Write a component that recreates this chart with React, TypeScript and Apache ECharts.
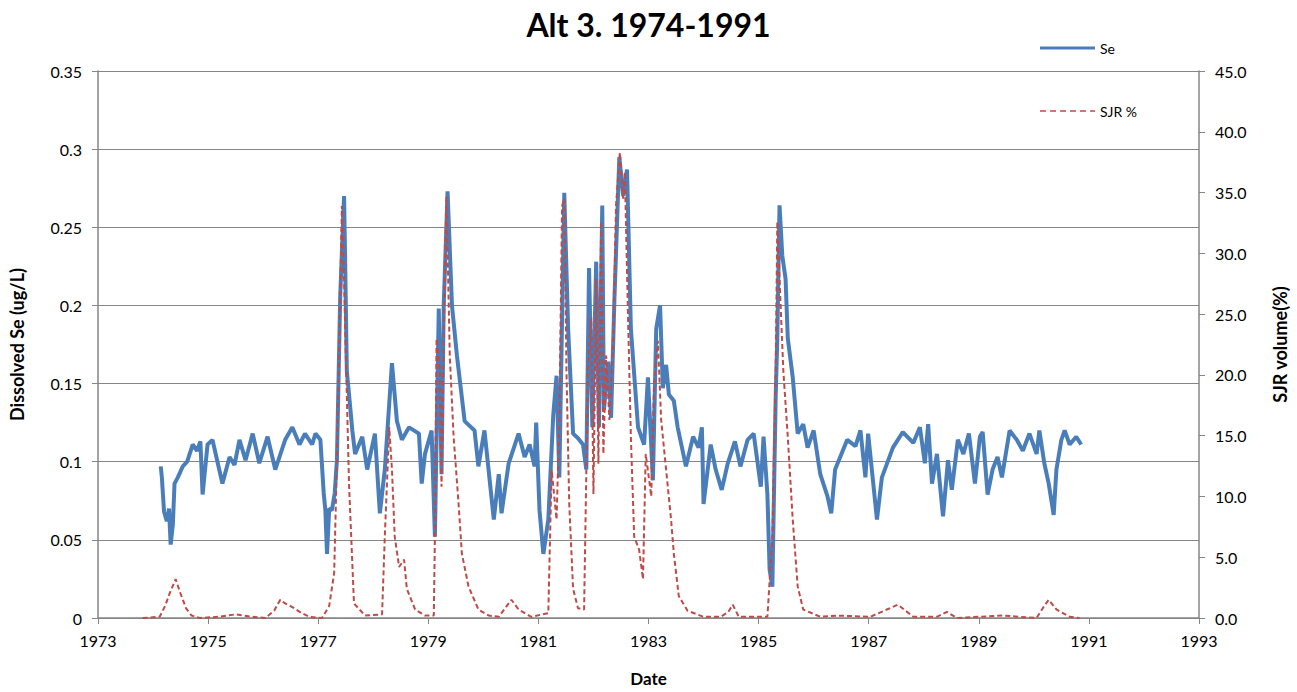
import React, { useEffect, useRef } from "react";
import * as echarts from "echarts";

const titleText = "Alt 3. 1974-1991";
const xTicksMin = 1973;
const xTicksMax = 1993;

// Dissolved Se (ug/L): [decimal year, value]
const seData: [number, number][] = [
  [1974.14, 0.097], [1974.16, 0.09], [1974.2, 0.068], [1974.25, 0.062], [1974.29, 0.07],
  [1974.32, 0.047], [1974.36, 0.06], [1974.39, 0.086], [1974.45, 0.09], [1974.54, 0.097],
  [1974.62, 0.1], [1974.72, 0.111], [1974.8, 0.107], [1974.86, 0.113], [1974.9, 0.079],
  [1974.99, 0.111], [1975.08, 0.114], [1975.17, 0.1], [1975.26, 0.086], [1975.39, 0.103],
  [1975.48, 0.098], [1975.57, 0.114], [1975.68, 0.101], [1975.81, 0.118], [1975.93, 0.099],
  [1976.08, 0.116], [1976.22, 0.095], [1976.4, 0.114], [1976.53, 0.122], [1976.66, 0.111],
  [1976.76, 0.118], [1976.89, 0.111], [1976.95, 0.118], [1977.04, 0.114], [1977.1, 0.08],
  [1977.13, 0.069], [1977.16, 0.041], [1977.2, 0.07], [1977.25, 0.069], [1977.3, 0.08],
  [1977.34, 0.101], [1977.4, 0.206], [1977.47, 0.27], [1977.49, 0.228], [1977.52, 0.158],
  [1977.56, 0.143], [1977.62, 0.12], [1977.67, 0.105], [1977.8, 0.116], [1977.89, 0.095],
  [1978.03, 0.118], [1978.12, 0.067], [1978.21, 0.095], [1978.29, 0.137], [1978.34, 0.163],
  [1978.43, 0.126], [1978.52, 0.114], [1978.65, 0.122], [1978.83, 0.118], [1978.88, 0.086],
  [1978.94, 0.105], [1979.06, 0.12], [1979.12, 0.052], [1979.19, 0.198], [1979.24, 0.092],
  [1979.28, 0.2], [1979.35, 0.273], [1979.43, 0.2], [1979.52, 0.168], [1979.66, 0.126],
  [1979.84, 0.12], [1979.91, 0.097], [1980.02, 0.12], [1980.19, 0.063], [1980.28, 0.092],
  [1980.33, 0.067], [1980.46, 0.099], [1980.64, 0.118], [1980.75, 0.103], [1980.84, 0.111],
  [1980.93, 0.097], [1980.96, 0.125], [1981.02, 0.069], [1981.09, 0.041], [1981.18, 0.063],
  [1981.27, 0.13], [1981.33, 0.155], [1981.38, 0.09], [1981.47, 0.272], [1981.54, 0.185],
  [1981.63, 0.118], [1981.72, 0.115], [1981.81, 0.111], [1981.87, 0.095], [1981.92, 0.224],
  [1981.98, 0.122], [1982.05, 0.228], [1982.1, 0.122], [1982.16, 0.264], [1982.19, 0.133],
  [1982.27, 0.164], [1982.32, 0.128], [1982.38, 0.203], [1982.47, 0.295], [1982.54, 0.27],
  [1982.61, 0.287], [1982.68, 0.185], [1982.81, 0.122], [1982.92, 0.111], [1982.99, 0.154],
  [1983.08, 0.088], [1983.14, 0.185], [1983.21, 0.2], [1983.26, 0.147], [1983.32, 0.162],
  [1983.37, 0.143], [1983.46, 0.139], [1983.53, 0.122], [1983.68, 0.097], [1983.81, 0.116],
  [1983.91, 0.109], [1983.97, 0.122], [1984.0, 0.073], [1984.13, 0.111], [1984.22, 0.095],
  [1984.33, 0.082], [1984.44, 0.099], [1984.57, 0.113], [1984.67, 0.097], [1984.8, 0.114],
  [1984.91, 0.118], [1985.04, 0.084], [1985.09, 0.116], [1985.16, 0.079], [1985.2, 0.031],
  [1985.25, 0.02], [1985.31, 0.141], [1985.34, 0.179], [1985.38, 0.264], [1985.43, 0.232],
  [1985.49, 0.217], [1985.53, 0.179], [1985.62, 0.154], [1985.71, 0.118], [1985.81, 0.124],
  [1985.89, 0.109], [1986.0, 0.12], [1986.12, 0.092], [1986.25, 0.078], [1986.32, 0.067],
  [1986.39, 0.095], [1986.61, 0.114], [1986.76, 0.11], [1986.85, 0.12], [1986.94, 0.09],
  [1986.99, 0.118], [1987.15, 0.063], [1987.24, 0.09], [1987.44, 0.109], [1987.62, 0.119],
  [1987.81, 0.112], [1987.93, 0.122], [1988.02, 0.099], [1988.08, 0.124], [1988.15, 0.086],
  [1988.24, 0.105], [1988.35, 0.065], [1988.44, 0.101], [1988.51, 0.082], [1988.62, 0.114],
  [1988.72, 0.105], [1988.82, 0.118], [1988.93, 0.086], [1989.02, 0.116], [1989.07, 0.119],
  [1989.16, 0.079], [1989.25, 0.095], [1989.34, 0.103], [1989.42, 0.09], [1989.56, 0.12],
  [1989.69, 0.114], [1989.8, 0.107], [1989.92, 0.118], [1990.05, 0.105], [1990.1, 0.12],
  [1990.19, 0.099], [1990.27, 0.086], [1990.36, 0.066], [1990.41, 0.095], [1990.5, 0.114],
  [1990.56, 0.12], [1990.65, 0.111], [1990.77, 0.116], [1990.86, 0.111],
];

// SJR volume (%): [decimal year, value]
const sjrData: [number, number][] = [
  [1973.81, 0], [1974.12, 0.1], [1974.22, 1.0], [1974.3, 2.0], [1974.41, 3.2],
  [1974.5, 2.0], [1974.6, 0.8], [1974.7, 0.2], [1974.85, 0], [1975.2, 0.1],
  [1975.5, 0.3], [1975.8, 0.1], [1976.04, 0], [1976.2, 0.6], [1976.31, 1.5],
  [1976.4, 1.2], [1976.53, 0.9], [1976.7, 0.4], [1976.84, 0.1], [1977.07, 0],
  [1977.2, 1.0], [1977.29, 3.7], [1977.34, 13.0], [1977.4, 26.5], [1977.43, 33.9],
  [1977.46, 30], [1977.49, 23.8], [1977.56, 11.0], [1977.65, 1.2], [1977.85, 0.2],
  [1978.16, 0.3], [1978.21, 6.7], [1978.29, 15.7], [1978.34, 12.2], [1978.39, 6.7],
  [1978.47, 4.2], [1978.56, 4.8], [1978.61, 2.4], [1978.76, 0.7], [1978.94, 0.2],
  [1979.1, 0.2], [1979.12, 6.7], [1979.15, 23.0], [1979.21, 20.3], [1979.24, 10.8],
  [1979.28, 23.0], [1979.33, 34.7], [1979.39, 21.6], [1979.46, 14.9], [1979.55, 9.4],
  [1979.61, 5.3], [1979.73, 2.6], [1979.91, 0.7], [1980.1, 0.2], [1980.28, 0.1],
  [1980.51, 1.5], [1980.64, 0.7], [1980.87, 0.1], [1981.18, 0.4], [1981.24, 12.2],
  [1981.33, 8.1], [1981.38, 16.3], [1981.43, 33.9], [1981.47, 34.5], [1981.51, 20.3],
  [1981.56, 9.4], [1981.63, 2.4], [1981.72, 0.8], [1981.83, 0.7], [1981.9, 20.3],
  [1981.96, 24.7], [1982.0, 10.2], [1982.05, 27.9], [1982.09, 12.7], [1982.14, 32.6],
  [1982.18, 13.5], [1982.23, 21.6], [1982.29, 16.3], [1982.36, 23.0], [1982.41, 33.9],
  [1982.48, 38.3], [1982.54, 34.5], [1982.57, 36.7], [1982.63, 24.4], [1982.68, 14.9],
  [1982.74, 6.7], [1982.83, 5.6], [1982.9, 3.2], [1982.95, 13.5], [1983.05, 10.0],
  [1983.1, 19.2], [1983.17, 22.8], [1983.23, 16.3], [1983.32, 12.2], [1983.41, 8.1],
  [1983.46, 5.3], [1983.55, 1.8], [1983.71, 0.6], [1984.0, 0.1], [1984.31, 0.1],
  [1984.45, 0.5], [1984.53, 1.1], [1984.64, 0.1], [1985.16, 0.1], [1985.25, 6.7],
  [1985.31, 20.3], [1985.34, 32.6], [1985.4, 25.7], [1985.45, 20.3], [1985.53, 14.9],
  [1985.62, 8.1], [1985.71, 2.6], [1985.81, 0.7], [1986.12, 0.1], [1986.43, 0.2],
  [1987.03, 0.1], [1987.33, 0.7], [1987.53, 1.1], [1987.81, 0.1], [1988.24, 0.1],
  [1988.42, 0.5], [1988.6, 0], [1989.43, 0.2], [1990.05, 0], [1990.19, 1.0],
  [1990.27, 1.5], [1990.41, 0.7], [1990.65, 0.1], [1990.83, 0],
];

const FONT = "Lato, 'Open Sans', sans-serif";
const AXIS_GRAY = "#868686";
const SE_COLOR = "#4a7ebb";
const SJR_COLOR = "#be4b48";

export default function App() {
  const ref = useRef<HTMLDivElement>(null);
  useEffect(() => {
    document.body.style.margin = "0";
    document.body.style.overflow = "hidden";
    document.documentElement.style.overflow = "hidden";
    if (!ref.current) return;
    const chart = echarts.init(ref.current, undefined, { renderer: "svg", width: 1297, height: 692 });
    chart.setOption({
      animation: false,
      backgroundColor: "#ffffff",
      textStyle: { fontFamily: FONT, color: "#000" },
      title: {
        text: titleText,
        left: "center",
        top: 3,
        textStyle: { fontFamily: FONT, fontSize: 32, fontWeight: "bold", color: "#000" },
      },
      legend: {
        orient: "vertical",
        left: 1035,
        top: 36,
        itemGap: 49,
        itemWidth: 55,
        itemHeight: 14,
        textStyle: { fontFamily: FONT, fontSize: 14, color: "#000" },
        data: [
          { name: "Se", icon: "path://M0,5.5 L55,5.5 L55,8.5 L0,8.5 Z", itemStyle: { color: SE_COLOR } },
          {
            name: "SJR %",
            icon: "path://M0,6.5 L6,6.5 L6,8 L0,8 Z M10,6.5 L16,6.5 L16,8 L10,8 Z M20,6.5 L26,6.5 L26,8 L20,8 Z M30,6.5 L36,6.5 L36,8 L30,8 Z M40,6.5 L46,6.5 L46,8 L40,8 Z M50,6.5 L55,6.5 L55,8 L50,8 Z",
            itemStyle: { color: SJR_COLOR },
          },
        ],
      },
      grid: { left: 95, right: 97, top: 71, bottom: 70 },
      xAxis: {
        type: "value",
        min: xTicksMin,
        max: xTicksMax,
        interval: 2,
        name: "Date",
        nameLocation: "middle",
        nameGap: 52,
        nameTextStyle: { fontFamily: FONT, fontSize: 17, fontWeight: "bold", color: "#000" },
        axisLine: { lineStyle: { color: AXIS_GRAY, width: 1.5 } },
        axisTick: { show: true, inside: false, length: 6, lineStyle: { color: AXIS_GRAY } },
        axisLabel: { fontFamily: FONT, fontSize: 16, color: "#000", margin: 14, formatter: (v: number) => String(v) },
        splitLine: { show: false },
      },
      yAxis: [
        {
          type: "value",
          min: 0,
          max: 0.35,
          interval: 0.05,
          position: "left",
          name: "Dissolved Se (ug/L)",
          nameLocation: "middle",
          nameGap: 72,
          nameTextStyle: { fontFamily: FONT, fontSize: 18, fontWeight: "bold", color: "#000" },
          axisLine: { show: true, lineStyle: { color: AXIS_GRAY, width: 1.5 } },
          axisTick: { show: true, length: 6, lineStyle: { color: AXIS_GRAY } },
          axisLabel: {
            fontFamily: FONT,
            fontSize: 16,
            color: "#000",
            margin: 16,
            formatter: (v: number) => String(Math.round(v * 100) / 100),
          },
          splitLine: { show: true, lineStyle: { color: AXIS_GRAY, width: 1.2 } },
        },
        {
          type: "value",
          min: 0,
          max: 45,
          interval: 5,
          position: "right",
          name: "SJR volume(%)",
          nameLocation: "middle",
          nameGap: 72,
          nameTextStyle: { fontFamily: FONT, fontSize: 18, fontWeight: "bold", color: "#000" },
          axisLine: { show: true, lineStyle: { color: AXIS_GRAY, width: 1.5 } },
          axisTick: { show: true, length: 6, lineStyle: { color: AXIS_GRAY } },
          axisLabel: {
            fontFamily: FONT,
            fontSize: 16,
            color: "#000",
            margin: 16,
            formatter: (v: number) => v.toFixed(1),
          },
          splitLine: { show: false },
        },
      ],
      series: [
        {
          name: "Se",
          type: "line",
          yAxisIndex: 0,
          data: seData,
          showSymbol: false,
          symbol: "none",
          lineStyle: { color: SE_COLOR, width: 4 },
          itemStyle: { color: SE_COLOR },
          z: 2,
        },
        {
          name: "SJR %",
          type: "line",
          yAxisIndex: 1,
          data: sjrData,
          showSymbol: false,
          symbol: "none",
          lineStyle: { color: SJR_COLOR, width: 2, type: [5, 3] },
          itemStyle: { color: SJR_COLOR },
          z: 3,
        },
      ],
    });
    return () => chart.dispose();
  }, []);
  return <div ref={ref} style={{ width: 1297, height: 692, overflow: "hidden" }} />;
}
